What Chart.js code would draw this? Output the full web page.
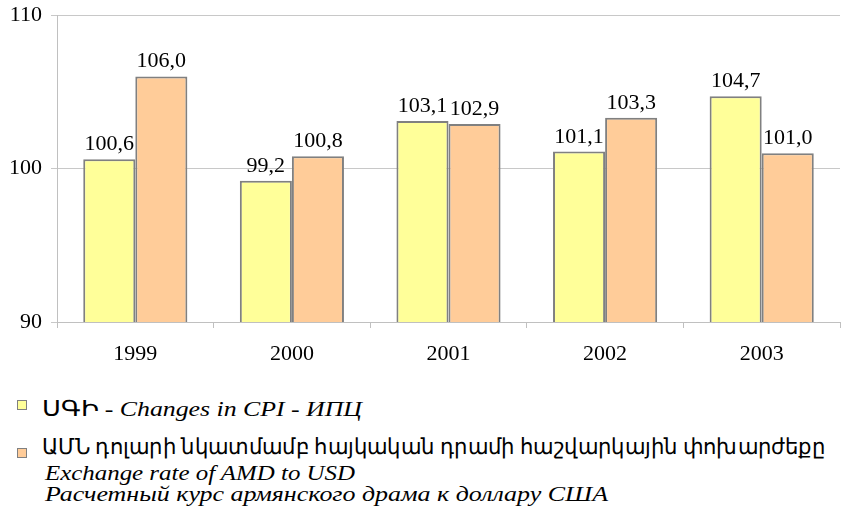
<!DOCTYPE html>
<html><head><meta charset="utf-8">
<script src="https://cdn.jsdelivr.net/npm/chart.js@4/dist/chart.umd.min.js"></script>
<style>
html,body{margin:0;padding:0;background:#fff;width:846px;height:511px;overflow:hidden;font-family:"Liberation Serif","Times New Roman",serif;}
#wrap{position:absolute;left:0;top:0;width:846px;height:372px;}
.leg{position:absolute;font-family:"Liberation Serif","Times New Roman",serif;font-size:22px;color:#000;white-space:nowrap;line-height:22px;height:22px;transform-origin:0 0;display:inline-block;}
.sq{position:absolute;width:8px;height:8px;border:1px solid #808080;}
</style></head><body>
<div id="wrap"><canvas id="c"></canvas></div>
<div class="sq" style="left:17px;top:400px;background:#FFFF99"></div>
<div class="leg" data-w="320" style="left:42px;top:398px;">ՍԳԻ - <i>Changes in CPI</i> - <i>ИПЦ</i></div>
<div class="sq" style="left:17px;top:448px;background:#FFCC99"></div>
<div class="leg" data-w="783" style="left:42px;top:436px;">ԱՄՆ դոլարի նկատմամբ հայկական դրամի հաշվարկային փոխարժեքը</div>
<div class="leg" data-w="310" style="left:45px;top:462px;"><i>Exchange rate of AMD to USD</i></div>
<div class="leg" data-w="563" style="left:45px;top:483px;"><i>Расчетный курс армянского драма к доллару США</i></div>
<script>
const categories = ["1999","2000","2001","2002","2003"];
const cpiValues = [100.6, 99.2, 103.1, 101.1, 104.7];
const rateValues = [106.0, 100.8, 102.9, 103.3, 101.0];
const yTicks = [90, 100, 110];

const FONT = '"Liberation Serif", "Times New Roman", serif';

const labelPlugin = {
  id:'vals',
  afterDatasetsDraw(chart){
    const ctx = chart.ctx;
    ctx.save();
    ctx.font = '22px ' + FONT;
    ctx.fillStyle = '#000';
    ctx.textAlign = 'center';
    ctx.textBaseline = 'alphabetic';
    chart.data.datasets.forEach((ds,i)=>{
      chart.getDatasetMeta(i).data.forEach((bar,j)=>{
        ctx.fillText(ds.data[j].toFixed(1).replace('.',','), bar.x, bar.y - 9);
      });
    });
    ctx.restore();
  }
};

function fitLegend(){
  document.querySelectorAll('.leg').forEach(el=>{
    el.style.transform='none';
    const w = el.getBoundingClientRect().width;
    const t = parseFloat(el.dataset.w);
    if (w>0) el.style.transform = 'scaleX(' + (t/w) + ')';
  });
}

const chart = new Chart(document.getElementById('c'), {
  type:'bar',
  data:{
    labels:categories,
    datasets:[
      {label:'CPI', data:cpiValues, backgroundColor:'#FFFF99', borderColor:'#808080', borderWidth:2, borderSkipped:false, categoryPercentage:0.665, barPercentage:1},
      {label:'Rate', data:rateValues, backgroundColor:'#FFCC99', borderColor:'#808080', borderWidth:2, borderSkipped:false, categoryPercentage:0.665, barPercentage:1}
    ]
  },
  options:{
    responsive:true, maintainAspectRatio:false, animation:false,
    layout:{padding:{top:15,right:6,left:0,bottom:0}},
    plugins:{legend:{display:false}, tooltip:{enabled:false}},
    scales:{
      x:{
        grid:{display:true, drawOnChartArea:false, drawTicks:true, tickLength:6, color:'#c0c0c0', offset:true},
        border:{color:'#c0c0c0', width:1},
        ticks:{font:{family:FONT, size:22}, color:'#000', padding:13},
        afterFit(s){ s.height = 50; s.paddingLeft = 0; s.paddingRight = 0; }
      },
      y:{
        min:90, max:110,
        afterBuildTicks(s){ s.ticks = yTicks.map(v=>({value:v})); },
        grid:{color:'#c8c8c8', tickLength:6, drawTicks:true},
        border:{color:'#c0c0c0', width:1},
        ticks:{font:{family:FONT, size:22}, color:'#000', padding:9},
        afterFit(s){ s.width = 57; s.paddingTop = 0; s.paddingBottom = 0; }
      }
    }
  },
  plugins:[labelPlugin]
});
fitLegend();
if (document.fonts) {
  document.fonts.load('22px "Liberation Serif"').then(()=>{ chart.update('none'); fitLegend(); });
  document.fonts.ready.then(()=>{ chart.update('none'); fitLegend(); });
}
</script>
</body></html>
